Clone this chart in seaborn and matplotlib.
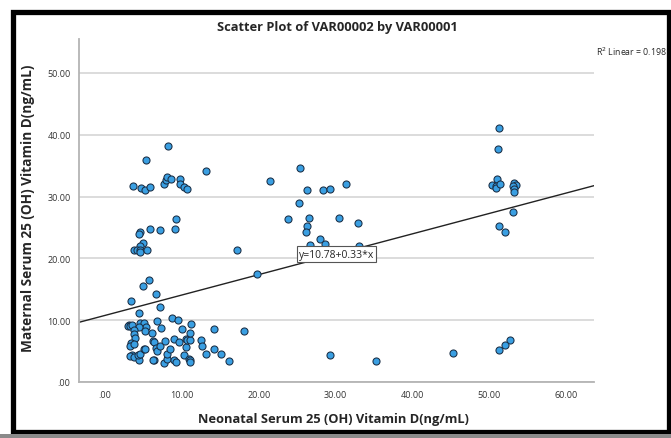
import numpy as np
import pandas as pd
import matplotlib
matplotlib.use("Agg")
import matplotlib.pyplot as plt
import matplotlib.patches as patches
import seaborn as sns

# values (neonatal x, maternal y)
neonatal = [
    5.3, 8.2, 13.1, 3.6, 4.7, 5.2, 5.9, 7.6, 7.9, 8.0, 8.6, 9.7, 9.8, 10.2, 10.6,
    9.2, 9.1, 5.8, 7.1, 4.5, 4.4, 4.9, 4.5, 3.8, 4.1, 4.5, 4.6, 5.5,
    5.7, 4.9, 3.3, 6.6, 7.2, 4.4,
    3.1, 3.0, 3.2, 3.5, 4.5, 5.0, 5.3, 4.4, 3.7, 3.8, 3.9, 3.3, 3.2, 3.7,
    3.5, 3.2, 3.8, 4.4, 4.3, 4.6, 5.0, 5.2, 5.2, 6.1, 6.8, 7.3, 6.2, 6.4,
    6.6, 6.4, 6.2, 6.8, 7.2, 7.8, 7.7, 8.1, 8.1, 8.4, 8.7, 8.9, 9.0, 9.2,
    9.5, 9.6, 10.0, 10.2, 10.5, 10.5, 10.6, 10.9, 11.0, 11.1, 11.1, 11.0,
    11.2, 12.5, 12.6, 13.1, 14.1, 14.2, 15.1, 16.1,
    25.4, 21.4, 26.2, 28.3, 29.2, 31.3, 25.2, 23.8, 26.5, 26.2, 26.1, 30.4,
    32.9, 28.0, 28.6, 26.6, 33.0, 17.2, 19.8, 18.1, 29.3, 35.2, 45.3,
    51.3, 51.1, 51.0, 50.3, 50.8, 50.9, 51.4, 53.2, 53.4, 53.0, 53.2, 53.2,
    53.0, 51.3, 52.0, 52.7, 52.0, 51.3,
]
maternal = [
    35.9, 38.2, 34.1, 31.7, 31.4, 31.1, 31.6, 32.0, 32.7, 33.2, 32.9, 32.9, 32.0, 31.6, 31.2,
    26.3, 24.8, 24.8, 24.6, 24.2, 23.9, 22.5, 22.0, 21.4, 21.4, 21.3, 21.1, 21.3,
    16.5, 15.5, 13.1, 14.2, 12.1, 11.2,
    9.3, 9.0, 9.1, 9.3, 9.5, 9.5, 8.9, 8.9, 8.4, 7.8, 7.2, 6.3, 5.9, 6.2,
    4.3, 4.2, 4.1, 3.6, 4.4, 4.5, 5.3, 5.4, 8.2, 8.0, 9.9, 8.7, 6.7, 6.5,
    5.5, 3.5, 3.6, 5.0, 5.8, 6.7, 3.1, 3.8, 4.5, 5.3, 10.4, 7.0, 3.6, 3.3,
    10.0, 6.4, 8.5, 4.4, 7.0, 5.6, 6.8, 3.8, 3.5, 3.2, 6.8, 7.9,
    9.4, 6.8, 5.9, 4.6, 8.6, 5.3, 4.5, 3.4,
    34.7, 32.6, 31.1, 31.1, 31.2, 32.0, 28.9, 26.4, 26.5, 25.3, 24.2, 26.6,
    25.8, 23.2, 22.4, 22.2, 22.0, 21.3, 17.4, 8.3, 4.3, 3.4, 4.7,
    41.1, 37.7, 32.8, 31.9, 31.7, 31.4, 32.0, 32.2, 31.9, 31.7, 31.3, 30.7,
    27.5, 25.2, 24.3, 6.8, 6.0, 5.1,
]
x_ticks = [0, 10, 20, 30, 40, 50, 60]
y_ticks = [0, 10, 20, 30, 40, 50]
intercept, slope = 10.78, 0.33
r2 = 0.198

df = pd.DataFrame({"neonatal": neonatal, "maternal": maternal})

sns.set_theme(style="white")
plt.rcParams["font.family"] = ["Open Sans", "DejaVu Sans"]

fig = plt.figure(figsize=(6.71, 4.39), dpi=100)
ax = fig.add_axes([79 / 671, 1 - 383 / 439, 515 / 671, 343 / 439])

xmin, xmax = -3.4, 63.6
ax.set_xlim(xmin, xmax)
ax.set_ylim(0, 55.5)

# grid first so points sit on top
ax.set_yticks(y_ticks)
ax.set_xticks(x_ticks)
ax.yaxis.grid(True, color="#d9d9d9", linewidth=1.3)
ax.xaxis.grid(False)
ax.set_axisbelow(True)

# fit line across full x range
xs = np.array([xmin, xmax])
ax.plot(xs, intercept + slope * xs, color="#222222", linewidth=1.0, zorder=2)

sns.scatterplot(data=df, x="neonatal", y="maternal", ax=ax, color="#3a9fe2",
                edgecolor="#1a2e45", linewidth=0.75, s=26, zorder=3)

ax.set_xticklabels([".00" if v == 0 else f"{v:.2f}" for v in x_ticks])
ax.set_yticklabels([".00" if v == 0 else f"{v:.2f}" for v in y_ticks])
ax.tick_params(axis="both", length=0, labelsize=6.5, labelcolor="#333333", pad=6)

for side in ["top", "right"]:
    ax.spines[side].set_visible(False)
for side in ["left", "bottom"]:
    ax.spines[side].set_color("#b4b4b4")
    ax.spines[side].set_linewidth(1.3)

ax.set_xlabel("Neonatal Serum 25 (OH) Vitamin D(ng/mL)", fontsize=9.3, fontweight="bold")
ax.set_ylabel("Maternal Serum 25 (OH) Vitamin D(ng/mL)", fontsize=9.8, fontweight="bold")
ax.xaxis.set_label_coords(0.495, -0.087)
ax.yaxis.set_label_coords(-0.085, 0.51)

ax.text(30.1, 20.7, f"y={intercept:.2f}+{slope:.2f}*x", fontsize=7.5, ha="center",
        va="center", zorder=5,
        bbox=dict(boxstyle="square,pad=0.2", facecolor="white", edgecolor="#555555",
                  linewidth=0.8))

fig.text(337 / 671, 1 - 28 / 439, "Scatter Plot of VAR00002 by VAR00001",
         fontsize=9.3, fontweight="bold", ha="center", va="center")
fig.text(596 / 671, 1 - 52 / 439, f"R$^2$ Linear = {r2:.3f}", fontsize=6.3,
         ha="left", va="center")

# outer black frame of the output window
fig.patches.append(patches.Rectangle((12.5 / 671, 1 - 432.5 / 439), 656 / 671, 420 / 439,
                                     transform=fig.transFigure, fill=False,
                                     edgecolor="black", linewidth=3.8))
fig.patches.append(patches.Rectangle((0, 0), 1, 4 / 439, transform=fig.transFigure,
                                     facecolor="#8a8a8a", edgecolor="none"))

fig.savefig("out.png", dpi=100)
